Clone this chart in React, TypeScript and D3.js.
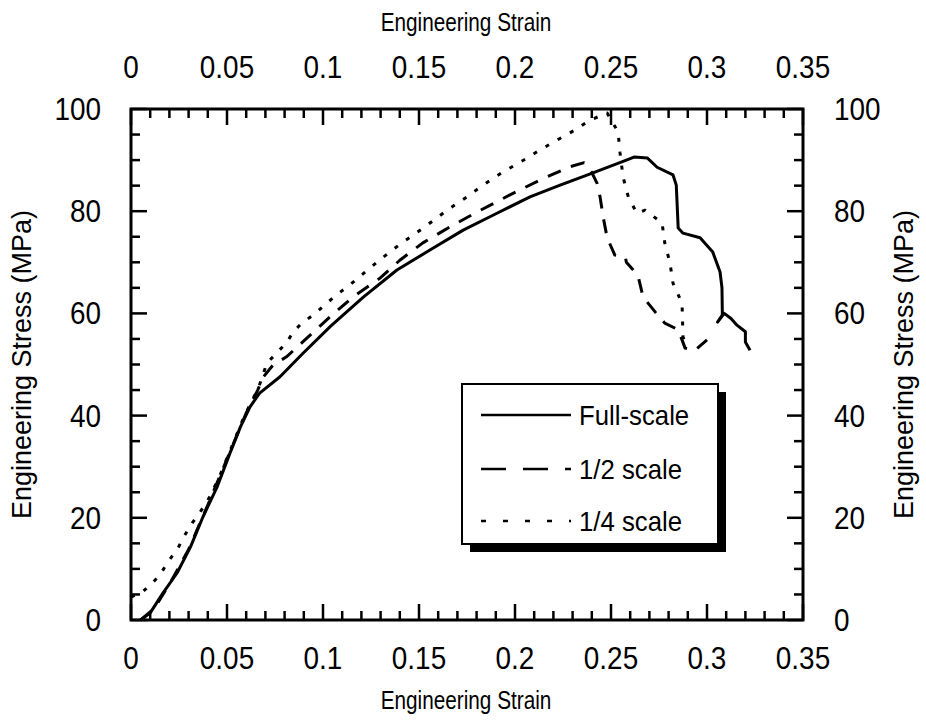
import React from 'react';
import * as d3 from 'd3';

// ---- data ----
const fullStrain = [0.005, 0.010, 0.0167, 0.024, 0.031, 0.0375, 0.0448, 0.0516, 0.057, 0.062, 0.067, 0.0776, 0.0896, 0.104, 0.121, 0.1385, 0.1557, 0.173, 0.1906, 0.2078, 0.2235, 0.2406, 0.258, 0.262, 0.269, 0.274, 0.2823, 0.284, 0.285, 0.2875, 0.2964, 0.303, 0.3068, 0.3078, 0.308, 0.3055, 0.309, 0.3125, 0.3156, 0.32, 0.32, 0.3224];
const fullStress = [0, 1.4, 5.3, 9.2, 14.3, 20.2, 26, 32.7, 37.8, 41.7, 44.4, 47.6, 52.2, 57.5, 63.2, 68.5, 72.4, 76.3, 79.6, 82.8, 85.1, 87.5, 90, 90.6, 90.4, 88.6, 87.1, 85.1, 76.7, 75.7, 74.8, 72, 68.1, 65, 59.7, 58.3, 60, 59, 57.7, 56.4, 54.4, 52.8];

const halfStrain = [0.005, 0.012, 0.02, 0.03, 0.04, 0.05, 0.06, 0.066, 0.0688, 0.074, 0.081, 0.0917, 0.1036, 0.1156, 0.1297, 0.14, 0.152, 0.166, 0.18, 0.1974, 0.213, 0.2286, 0.236, 0.2401, 0.2427, 0.2443, 0.246, 0.248, 0.252, 0.2575, 0.258, 0.264, 0.2667, 0.273, 0.278, 0.285, 0.2886, 0.2938, 0.3];
const halfStress = [0, 2.2, 7, 13.8, 22.5, 31.5, 40.5, 45, 47.5, 49.9, 51.5, 55.2, 59.3, 63.2, 66.9, 70.4, 73.8, 76.9, 79.8, 83.2, 86.1, 88.7, 89.5, 87.5, 85.5, 82.8, 78.7, 74.8, 71.4, 71, 70, 67.5, 63.2, 60.3, 58.1, 56.8, 53.2, 52.8, 54.8];

const quarterStrain = [0, 0.006, 0.011, 0.015, 0.0193, 0.0245, 0.028, 0.0323, 0.036, 0.041, 0.046, 0.052, 0.058, 0.063, 0.066, 0.069, 0.0708, 0.075, 0.0813, 0.0845, 0.089, 0.095, 0.102, 0.107, 0.114, 0.1245, 0.1307, 0.141, 0.147, 0.1594, 0.1646, 0.175, 0.1818, 0.1938, 0.199, 0.2063, 0.213, 0.2219, 0.2313, 0.239, 0.2453, 0.248, 0.2537, 0.2547, 0.2563, 0.259, 0.2635, 0.2677, 0.2766, 0.278, 0.2807, 0.2823, 0.287, 0.2875, 0.289];
const quarterStress = [4.5, 5.5, 7.2, 8.8, 11.4, 14.1, 16.6, 19.2, 21.1, 24.1, 28, 33.5, 39, 43, 45, 48.3, 50.3, 51.9, 54.4, 56.4, 58.1, 59.7, 62, 63.6, 65.6, 68.9, 70.8, 73.8, 75.3, 78.7, 80.2, 82.8, 84.7, 87.7, 88.8, 90.4, 92, 93.9, 95.9, 97.8, 98.8, 99.2, 95.5, 91.4, 86.7, 82.8, 79.6, 80.2, 77.7, 73.8, 69.9, 65.9, 62, 55.4, 54];

const xTickValues = [0, 0.05, 0.1, 0.15, 0.2, 0.25, 0.3, 0.35];
const yTickValues = [0, 20, 40, 60, 80, 100];
const seriesNames = ['Full-scale', '1/2 scale', '1/4 scale'];

const W = 926, H = 721;
const FONT = "'Liberation Sans', Arial, Helvetica, sans-serif";

// text squeezed horizontally, like the narrow sans of the reference
function NText(props: { x: number; y: number; size: number; sx: number; anchor?: string; children: React.ReactNode }) {
  const { x, y, size, sx, anchor, children } = props;
  return (
    <text transform={`translate(${x},${y}) scale(${sx},1)`} textAnchor={anchor || 'start'} fontSize={size}>{children}</text>
  );
}

export default function App() {
  const x = d3.scaleLinear().domain([0, 0.35]).range([131, 803]);
  const y = d3.scaleLinear().domain([0, 100]).range([620, 109]);
  const [x0, x1] = x.range();
  const [y0, y1] = y.range();

  const line = d3.line<[number, number]>().x(d => x(d[0])).y(d => y(d[1]));
  const zip = (a: number[], b: number[]) => a.map((v, i) => [v, b[i]] as [number, number]);

  const series = [
    { name: seriesNames[0], d: line(zip(fullStrain, fullStress)), dash: undefined as string | undefined, legDash: undefined as string | undefined },
    { name: seriesNames[1], d: line(zip(halfStrain, halfStress)), dash: '14,11', legDash: '25,17' },
    { name: seriesNames[2], d: line(zip(quarterStrain, quarterStress)), dash: '4,10', legDash: '5,17' },
  ];

  const xMinor = d3.range(0, 0.3501, 0.01).filter(v => Math.abs((v / 0.05) - Math.round(v / 0.05)) > 1e-6);
  const yMinor = d3.range(0, 100.01, 5).filter(v => v % 20 !== 0);
  const MAJ = 16, MIN = 9;

  const tickStyle = { stroke: '#000', strokeWidth: 2.5 };

  // legend geometry
  const lg = { x: 462, y: 384, w: 256, h: 160, sh: 8 };
  const rowY = [415, 469, 521];
  const midY = (y0 + y1) / 2;

  const TS = 31, TSX = 0.9;

  return (
    <svg width={W} height={H} style={{ position: 'absolute', left: 0, top: 0, background: '#fff' }} fontFamily={FONT}>
      <rect x={0} y={0} width={W} height={H} fill="#fff" />
      {/* ticks */}
      {xTickValues.map(v => (
        <g key={'xt' + v}>
          <line x1={x(v)} x2={x(v)} y1={y0} y2={y0 - MAJ} style={tickStyle} />
          <line x1={x(v)} x2={x(v)} y1={y1} y2={y1 + MAJ} style={tickStyle} />
        </g>
      ))}
      {xMinor.map(v => (
        <g key={'xm' + v}>
          <line x1={x(v)} x2={x(v)} y1={y0} y2={y0 - MIN} style={tickStyle} />
          <line x1={x(v)} x2={x(v)} y1={y1} y2={y1 + MIN} style={tickStyle} />
        </g>
      ))}
      {yTickValues.map(v => (
        <g key={'yt' + v}>
          <line x1={x0} x2={x0 + MAJ} y1={y(v)} y2={y(v)} style={tickStyle} />
          <line x1={x1} x2={x1 - MAJ} y1={y(v)} y2={y(v)} style={tickStyle} />
        </g>
      ))}
      {yMinor.map(v => (
        <g key={'ym' + v}>
          <line x1={x0} x2={x0 + MIN} y1={y(v)} y2={y(v)} style={tickStyle} />
          <line x1={x1} x2={x1 - MIN} y1={y(v)} y2={y(v)} style={tickStyle} />
        </g>
      ))}
      {/* frame */}
      <rect x={x0} y={y1} width={x1 - x0} height={y0 - y1} fill="none" stroke="#000" strokeWidth={3} />

      {/* tick labels */}
      {xTickValues.map(v => (
        <NText key={'xb' + v} x={x(v)} y={669} size={TS} sx={TSX} anchor="middle">{String(v)}</NText>
      ))}
      {xTickValues.map(v => (
        <NText key={'xtop' + v} x={x(v)} y={78} size={TS} sx={TSX} anchor="middle">{String(v)}</NText>
      ))}
      {yTickValues.map(v => (
        <NText key={'yl' + v} x={101} y={y(v) + 11} size={TS} sx={TSX} anchor="end">{String(v)}</NText>
      ))}
      {yTickValues.map(v => (
        <NText key={'yr' + v} x={834} y={y(v) + 11} size={TS} sx={TSX} anchor="start">{String(v)}</NText>
      ))}

      {/* axis titles */}
      <NText x={466} y={709} size={25} sx={0.83} anchor="middle">Engineering Strain</NText>
      <NText x={466} y={31} size={25} sx={0.83} anchor="middle">Engineering Strain</NText>
      <text transform={`translate(31, ${midY}) rotate(-90)`} textAnchor="middle" fontSize={27}>Engineering Stress (MPa)</text>
      <text transform={`translate(913, ${midY}) rotate(-90)`} textAnchor="middle" fontSize={27}>Engineering Stress (MPa)</text>

      {/* series */}
      {series.map(s => (
        <path key={s.name} d={s.d || ''} fill="none" stroke="#000" strokeWidth={3} strokeDasharray={s.dash} strokeLinejoin="round" />
      ))}

      {/* legend */}
      <rect x={lg.x + lg.sh} y={lg.y + lg.sh} width={lg.w} height={lg.h} fill="#000" />
      <rect x={lg.x} y={lg.y} width={lg.w} height={lg.h} fill="#fff" stroke="#000" strokeWidth={2} />
      {series.map((s, i) => (
        <g key={'lg' + s.name}>
          <line x1={481} x2={571} y1={rowY[i]} y2={rowY[i]} stroke="#000" strokeWidth={2.5} strokeDasharray={s.legDash} />
          <NText x={579} y={rowY[i] + 10} size={28} sx={0.92}>{s.name}</NText>
        </g>
      ))}
    </svg>
  );
}
